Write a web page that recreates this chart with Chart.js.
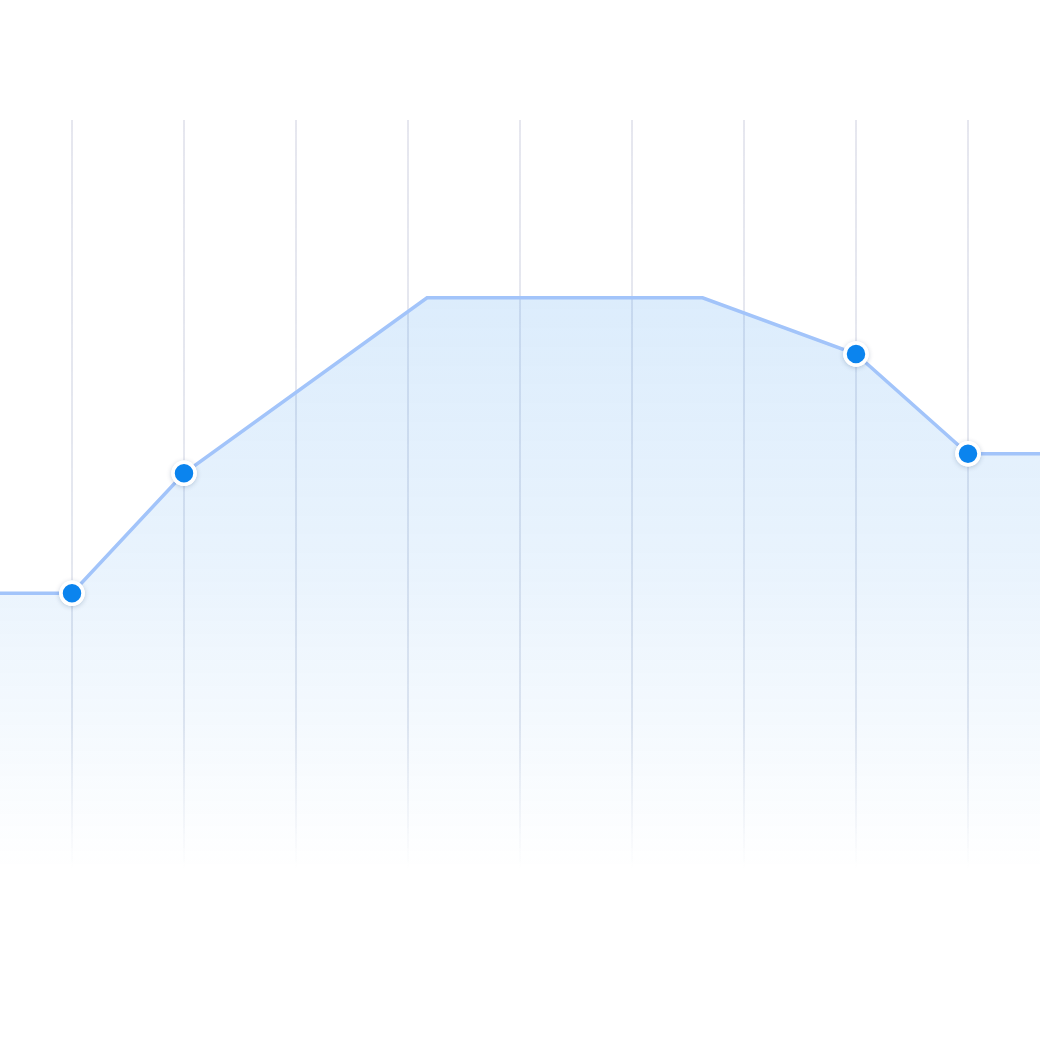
<!DOCTYPE html>
<html>
<head>
<meta charset="utf-8">
<script src="https://cdn.jsdelivr.net/npm/chart.js@4.4.1/dist/chart.umd.min.js"></script>
<style>
  html, body { margin: 0; padding: 0; background: #fff; }
  #wrap { width: 1040px; height: 1040px; position: relative; }
</style>
</head>
<body>
<div id="wrap"><canvas id="chart"></canvas></div>
<script>
// x positions (grid units) and values
const xValues = [-1, 0, 1, 3.17, 5.63, 7, 8, 9];
const yValues = [36.9, 36.9, 52.9, 76.3, 76.3, 68.8, 55.5, 55.5];
const gridTicks = [0, 1, 2, 3, 4, 5, 6, 7, 8];

const points = xValues.map((x, i) => ({ x: x, y: yValues[i] }));

// fill gradient, fades to white towards the bottom
function fillGradient(context) {
  const chart = context.chart;
  const area = chart.chartArea;
  if (!area) return 'rgba(10,132,237,0.1)';
  const g = chart.ctx.createLinearGradient(0, area.top, 0, area.bottom);
  g.addColorStop(0, 'rgba(20,130,235,0.20)');
  g.addColorStop(0.24, 'rgba(20,130,235,0.15)');
  g.addColorStop(0.59, 'rgba(20,130,235,0.095)');
  g.addColorStop(0.85, 'rgba(20,130,235,0.035)');
  g.addColorStop(1, 'rgba(20,130,235,0)');
  return g;
}

function gridGradient(context) {
  const chart = context.chart;
  const area = chart.chartArea;
  if (!area) return '#e8e9f0';
  const g = chart.ctx.createLinearGradient(0, area.top, 0, area.bottom);
  g.addColorStop(0, 'rgba(230,231,239,1)');
  g.addColorStop(0.8, 'rgba(225,229,238,0.9)');
  g.addColorStop(1, 'rgba(225,229,238,0)');
  return g;
}

// soft shadow under the markers only: redraw each visible point on top of a shadowed disc
const pointShadow = {
  id: 'pointShadow',
  afterDatasetsDraw(chart) {
    const ctx = chart.ctx;
    chart.getDatasetMeta(0).data.forEach(pt => {
      const r = pt.options.radius;
      if (!r) return;
      const outer = r + pt.options.borderWidth / 2;
      ctx.save();
      ctx.shadowColor = 'rgba(0,40,90,0.22)';
      ctx.shadowBlur = 5;
      ctx.shadowOffsetY = 1;
      ctx.fillStyle = '#ffffff';
      ctx.beginPath();
      ctx.arc(pt.x, pt.y, outer, 0, Math.PI * 2);
      ctx.fill();
      ctx.restore();
      pt.draw(ctx, chart.chartArea);
    });
  }
};

const chart = new Chart(document.getElementById('chart'), {
  type: 'line',
  data: {
    datasets: [{
      data: points,
      borderColor: '#a2c4fa',
      borderWidth: 3.5,
      tension: 0,
      fill: 'origin',
      backgroundColor: fillGradient,
      pointRadius: ctx => {
        const x = xValues[ctx.dataIndex];
        return (x === 0 || x === 1 || x === 7 || x === 8) ? 11 : 0;
      },
      pointHoverRadius: 0,
      pointBackgroundColor: '#0b84ee',
      pointBorderColor: '#ffffff',
      pointBorderWidth: 3.5
    }]
  },
  plugins: [pointShadow],
  options: {
    responsive: true,
    maintainAspectRatio: false,
    animation: false,
    layout: { padding: { top: 120, bottom: 170, left: 0, right: 0 } },
    plugins: {
      legend: { display: false },
      tooltip: { enabled: false }
    },
    scales: {
      x: {
        type: 'linear',
        min: -72 / 112,
        max: 968 / 112,
        afterBuildTicks: scale => {
          scale.ticks = gridTicks.map(v => ({ value: v }));
        },
        ticks: { display: false },
        grid: { color: gridGradient, lineWidth: 2, drawTicks: false },
        border: { display: false }
      },
      y: {
        display: false,
        min: 0,
        max: 100
      }
    }
  }
});
</script>
</body>
</html>
